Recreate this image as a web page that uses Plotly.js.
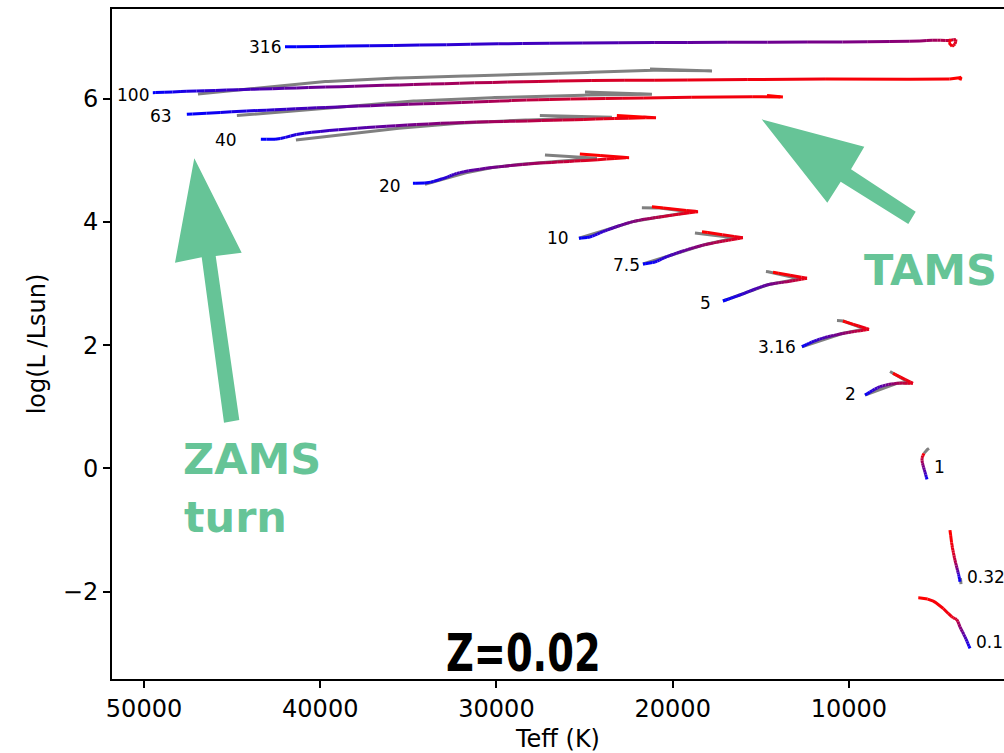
<!DOCTYPE html>
<html>
<head>
<meta charset="utf-8">
<script src="https://cdn.plot.ly/plotly-3.0.1.min.js"></script>
<style>
  html, body { margin: 0; padding: 0; background: #fff; overflow: hidden; }
  #hr { width: 1004px; height: 753px; }
</style>
</head>
<body>
<div id="hr"></div>
<script>
// Main-sequence evolutionary tracks, Z = 0.02.
// Coloured tracks: colour runs blue (ZAMS) -> red (TAMS) with the age fraction.
// Grey tracks: comparison models.

const massLabels = ['316', '100', '63', '40', '20', '10', '7.5', '5', '3.16', '2', '1', '0.32', '0.1'];

const teff316 = [42000, 35480, 26970, 18460, 9940, 5970, 5120, 4380, 3930, 3980, 4150, 4320, 4210];
const logL316 = [6.845, 6.869, 6.905, 6.918, 6.926, 6.942, 6.954, 6.950, 6.967, 6.894, 6.853, 6.910, 6.965];
const age316  = [0, 0.12, 0.27, 0.38, 0.48, 0.57, 0.64, 0.72, 0.82, 0.88, 0.93, 0.97, 1];

const teff100 = [49500, 46830, 41160, 35480, 26970, 18460, 9940, 3870, 3640, 3700];
const logL100 = [6.102, 6.130, 6.179, 6.227, 6.288, 6.309, 6.325, 6.333, 6.353, 6.301];
const age100  = [0, 0.15, 0.38, 0.55, 0.80, 0.92, 0.97, 0.99, 1, 1];

const teff63 = [47570, 43990, 38320, 32640, 26970, 21290, 14650, 13750, 14650];
const logL63 = [5.751, 5.805, 5.878, 5.935, 5.992, 6.016, 6.037, 6.032, 6.057];
const age63  = [0, 0.12, 0.38, 0.58, 0.78, 0.92, 0.97, 0.99, 1];

const teff40 = [43370, 42400, 41160, 37350, 32640, 26970, 23170, 20950, 23170];
const logL40 = [5.345, 5.350, 5.431, 5.534, 5.610, 5.651, 5.683, 5.696, 5.729];
const age40  = [0, 0.05, 0.15, 0.35, 0.55, 0.75, 0.92, 0.98, 1];

const teff20 = [34740, 33890, 32930, 32080, 28840, 25100, 22480, 25270];
const logL20 = [4.630, 4.640, 4.717, 4.803, 4.928, 4.998, 5.046, 5.106];
const age20  = [0, 0.05, 0.15, 0.30, 0.55, 0.85, 0.97, 1];

const teff10 = [25320, 24700, 23960, 22260, 20330, 18570, 21180];
const logL10 = [3.737, 3.758, 3.844, 4.007, 4.099, 4.169, 4.250];
const age10  = [0, 0.05, 0.20, 0.50, 0.80, 0.95, 1];

const teff7p5 = [21690, 21010, 20330, 18460, 16020, 18340];
const logL7p5 = [3.319, 3.352, 3.438, 3.612, 3.747, 3.844];
const age7p5  = [0, 0.05, 0.20, 0.55, 0.92, 1];

const teff5 = [17150, 16190, 14650, 13520, 12380, 14310];
const logL5 = [2.718, 2.816, 2.978, 3.032, 3.087, 3.184];
const age5  = [0, 0.15, 0.40, 0.65, 0.92, 1];

const teff3p16 = [12670, 11820, 10510, 8860, 10340];
const logL3p16 = [1.976, 2.084, 2.182, 2.258, 2.393];
const age3p16  = [0, 0.20, 0.50, 0.90, 1];

const teff2 = [9090, 8240, 7280, 6370, 7500];
const logL2 = [1.191, 1.326, 1.381, 1.381, 1.543];
const age2  = [0, 0.30, 0.65, 0.90, 1];

const teff1 = [5573, 5686, 5828, 5857, 5743];
const logL1 = [-0.179, -0.060, 0.086, 0.167, 0.244];
const age1  = [0, 0.30, 0.60, 0.80, 1];

const teff0p32 = [3700, 3757, 3842, 3984, 4154, 4268];
const logL0p32 = [-1.842, -1.750, -1.652, -1.490, -1.246, -1.002];
const age0p32  = [0, 0.10, 0.40, 0.75, 0.95, 1];

const teff0p1 = [3133, 3416, 3700, 3887, 4080, 4268, 4648, 5215, 5686, 6067];
const logL0p1 = [-2.924, -2.736, -2.574, -2.453, -2.427, -2.383, -2.275, -2.156, -2.112, -2.102];
const age0p1  = [0, 0.30, 0.55, 0.80, 0.90, 0.93, 0.96, 0.98, 0.99, 1];

// Grey comparison tracks
const gTeff100 = [46940, 43430, 41160, 35480, 26970, 21460, 17770, 21290];
const gLogL100 = [6.081, 6.179, 6.252, 6.341, 6.406, 6.463, 6.455, 6.487];

const gTeff63 = [44730, 41160, 35480, 26970, 21180, 24980];
const gLogL63 = [5.729, 5.813, 5.951, 6.049, 6.076, 6.114];

const gTeff40 = [41380, 37350, 32640, 27540, 23450, 27540];
const gLogL40 = [5.334, 5.472, 5.594, 5.667, 5.703, 5.729];

const gTeff20 = [34060, 32640, 30370, 26970, 24300, 27250];
const gLogL20 = [4.614, 4.733, 4.879, 4.977, 5.037, 5.090];

const gTeff10 = [25320, 22260, 20330, 19020, 20560, 21750];
const gLogL10 = [3.737, 4.007, 4.099, 4.164, 4.224, 4.234];

const gTeff7p5 = [21690, 18460, 16470, 18060, 18740];
const gLogL7p5 = [3.319, 3.612, 3.742, 3.802, 3.823];

const gTeff5 = [17150, 14650, 12780, 14310, 14710];
const gLogL5 = [2.718, 2.978, 3.076, 3.181, 3.197];

const gTeff3p16 = [12670, 10510, 9090, 10340, 10680];
const gLogL3p16 = [1.976, 2.182, 2.263, 2.393, 2.401];

const gTeff2 = [9090, 7280, 6540, 7500, 7670];
const gLogL2 = [1.191, 1.381, 1.386, 1.543, 1.573];

const gTeff1 = [5743, 5630, 5459];
const gLogL1 = [0.244, 0.289, 0.325];

const gTeff0p32 = [3643, 3672];
const gLogL0p32 = [-1.880, -1.782];

const xTicks = [50000, 40000, 30000, 20000, 10000];
const yTicks = [-2, 0, 2, 4, 6];

// ---- assemble tracks ----
const tracks = [
  { teff: teff316, logL: logL316, age: age316 },
  { teff: teff100, logL: logL100, age: age100, gt: gTeff100, gl: gLogL100 },
  { teff: teff63, logL: logL63, age: age63, gt: gTeff63, gl: gLogL63 },
  { teff: teff40, logL: logL40, age: age40, gt: gTeff40, gl: gLogL40 },
  { teff: teff20, logL: logL20, age: age20, gt: gTeff20, gl: gLogL20 },
  { teff: teff10, logL: logL10, age: age10, gt: gTeff10, gl: gLogL10 },
  { teff: teff7p5, logL: logL7p5, age: age7p5, gt: gTeff7p5, gl: gLogL7p5 },
  { teff: teff5, logL: logL5, age: age5, gt: gTeff5, gl: gLogL5 },
  { teff: teff3p16, logL: logL3p16, age: age3p16, gt: gTeff3p16, gl: gLogL3p16 },
  { teff: teff2, logL: logL2, age: age2, gt: gTeff2, gl: gLogL2 },
  { teff: teff1, logL: logL1, age: age1, gt: gTeff1, gl: gLogL1 },
  { teff: teff0p32, logL: logL0p32, age: age0p32, gt: gTeff0p32, gl: gLogL0p32 },
  { teff: teff0p1, logL: logL0p1, age: age0p1 }
];
tracks.forEach((t, i) => { t.label = massLabels[i]; });

// ---- plot geometry ----
const X_RANGE = [51816, 1203];
const Y_RANGE = [-3.42, 7.46];
const MARGIN = { l: 112, r: 0, t: 9, b: 74 };
const PW = 1004 - MARGIN.l - MARGIN.r;
const PH = 753 - MARGIN.t - MARGIN.b;
const sx = PW / Math.abs(X_RANGE[0] - X_RANGE[1]);
const sy = PH / (Y_RANGE[1] - Y_RANGE[0]);

// Smooth rendering of a track (centripetal Catmull-Rom in screen space,
// like a spline line shape). Sharp turns (the TAMS hooks) stay as corners.
function smoothTrack(xs, ys, vals) {
  const P = xs.map((x, i) => [x * sx, ys[i] * sy]);
  const n = P.length;
  if (n < 3) return { x: xs.slice(), y: ys.slice(), v: vals ? vals.slice() : null };
  const corner = P.map((p, i) => {
    if (i === 0 || i === n - 1) return true;
    const ax = p[0] - P[i - 1][0], ay = p[1] - P[i - 1][1];
    const bx = P[i + 1][0] - p[0], by = P[i + 1][1] - p[1];
    const c = (ax * bx + ay * by) / (Math.hypot(ax, ay) * Math.hypot(bx, by) + 1e-9);
    return c < 0.1;
  });
  const ox = [xs[0]], oy = [ys[0]], ov = vals ? [vals[0]] : null;
  for (let i = 0; i < n - 1; i++) {
    const p1 = P[i], p2 = P[i + 1];
    const p0 = corner[i] ? [2 * p1[0] - p2[0], 2 * p1[1] - p2[1]] : P[i - 1];
    const p3 = corner[i + 1] ? [2 * p2[0] - p1[0], 2 * p2[1] - p1[1]] : P[i + 2];
    const d = (a, b) => Math.max(1e-6, Math.sqrt(Math.hypot(b[0] - a[0], b[1] - a[1])));
    const t0 = 0, t1 = t0 + d(p0, p1), t2 = t1 + d(p1, p2), t3 = t2 + d(p2, p3);
    const len = Math.hypot(p2[0] - p1[0], p2[1] - p1[1]);
    const k = Math.max(1, Math.ceil(len / 3));
    for (let j = 1; j <= k; j++) {
      const u = j / k, t = t1 + (t2 - t1) * u;
      const L = (a, b, ta, tb) => [
        (tb - t) / (tb - ta) * a[0] + (t - ta) / (tb - ta) * b[0],
        (tb - t) / (tb - ta) * a[1] + (t - ta) / (tb - ta) * b[1]];
      const A1 = L(p0, p1, t0, t1), A2 = L(p1, p2, t1, t2), A3 = L(p2, p3, t2, t3);
      const B1 = L(A1, A2, t0, t2), B2 = L(A2, A3, t1, t3);
      const C = L(B1, B2, t1, t2);
      ox.push(C[0] / sx); oy.push(C[1] / sy);
      if (ov) ov.push(vals[i] + (vals[i + 1] - vals[i]) * u);
    }
  }
  return { x: ox, y: oy, v: ov };
}

// Age-coloured lines: short pieces grouped into colour bins (one trace per bin).
const NB = 40;
const bins = Array.from({ length: NB }, () => ({ x: [], y: [], lastEnd: null }));
function ageColor(a) {
  const r = Math.round(255 * a), b = Math.round(255 * (1 - a));
  return `rgb(${r},0,${b})`;
}
tracks.forEach((t, ti) => {
  const s = smoothTrack(t.teff, t.logL, t.age);
  for (let i = 0; i < s.x.length - 1; i++) {
    const am = (s.v[i] + s.v[i + 1]) / 2;
    const bi = Math.min(NB - 1, Math.max(0, Math.round(am * (NB - 1))));
    const bin = bins[bi];
    const startKey = ti + ':' + i;
    if (bin.lastEnd === startKey) {
      bin.x.push(s.x[i + 1]); bin.y.push(s.y[i + 1]);
    } else {
      if (bin.x.length) { bin.x.push(null); bin.y.push(null); }
      bin.x.push(s.x[i], s.x[i + 1]); bin.y.push(s.y[i], s.y[i + 1]);
    }
    bin.lastEnd = ti + ':' + (i + 1);
  }
});

const data = [];

// grey comparison tracks underneath
const gx = [], gy = [];
tracks.forEach(t => {
  if (!t.gt) return;
  const s = smoothTrack(t.gt, t.gl, null);
  if (gx.length) { gx.push(null); gy.push(null); }
  gx.push(...s.x); gy.push(...s.y);
});
data.push({
  type: 'scatter', mode: 'lines', x: gx, y: gy,
  line: { color: '#808080', width: 3 }, hoverinfo: 'skip', showlegend: false
});

bins.forEach((b, i) => {
  if (!b.x.length) return;
  data.push({
    type: 'scatter', mode: 'lines', x: b.x, y: b.y,
    line: { color: ageColor(i / (NB - 1)), width: 3 },
    hoverinfo: 'skip', showlegend: false
  });
});

// ---- annotations ----
const GREEN = '#66c497';
const labelFont = { family: 'DejaVu Sans, sans-serif', size: 17, color: '#000' };
const labelDX = [-2, -2, -13, -22, -10, -8, -1, -10, -4, -7, 5, 5, 4];
const labelDY = [0, -2, -2, -1, -3, 0, -1, -2, 0, 1, 12, 5, 6];
const annotations = tracks.map((t, i) => {
  const lowMass = i >= 10;
  return {
    x: t.teff[0], y: t.logL[0], xref: 'x', yref: 'y',
    text: t.label, showarrow: false,
    xanchor: lowMass ? 'left' : 'right', yanchor: 'middle',
    xshift: labelDX[i], yshift: labelDY[i], font: labelFont
  };
});

// pixel helpers for the overlay call-outs
const PX = x => (x - MARGIN.l) / PW;
const PY = y => (MARGIN.t + PH - y) / PH;

const calloutFont = { family: 'DejaVu Sans, sans-serif', size: 43, color: GREEN, weight: 700 };
annotations.push(
  { xref: 'paper', yref: 'paper', x: PX(252), y: PY(459), text: 'ZAMS', showarrow: false,
    xanchor: 'center', yanchor: 'middle', font: calloutFont },
  { xref: 'paper', yref: 'paper', x: PX(182), y: PY(517), text: 'turn', showarrow: false,
    xanchor: 'left', yanchor: 'middle', font: calloutFont },
  { xref: 'paper', yref: 'paper', x: PX(930), y: PY(270), text: 'TAMS', showarrow: false,
    xanchor: 'center', yanchor: 'middle', font: calloutFont },
  { xref: 'paper', yref: 'paper', x: PX(523), y: PY(653), text: 'Z=0.02', showarrow: false,
    xanchor: 'center', yanchor: 'middle',
    font: { family: 'DejaVu Sans Condensed, Liberation Sans Narrow, Liberation Sans, sans-serif',
            size: 52, color: '#000', weight: 700 } }
);

function polyPath(pts) {
  return 'M ' + pts.map(p => PX(p[0]).toFixed(5) + ',' + PY(p[1]).toFixed(5)).join(' L ') + ' Z';
}
const zamsArrow = [[194.3, 158.3], [241.7, 252.7], [215.7, 256], [239.3, 420], [224, 422.7],
                   [201.7, 257.3], [175, 262.7]];
const tamsArrow = [[761.7, 119.3], [864.3, 146.7], [851, 169.3], [915.7, 211.7], [908.3, 224],
                   [840.7, 181.7], [827.3, 202.7]];
const shapes = [zamsArrow, tamsArrow].map(p => ({
  type: 'path', xref: 'paper', yref: 'paper', path: polyPath(p),
  fillcolor: GREEN, line: { width: 0 }, layer: 'above'
}));

const axisFont = { family: 'DejaVu Sans, sans-serif', size: 24, color: '#000' };
const layout = {
  width: 1004, height: 753,
  margin: MARGIN,
  paper_bgcolor: '#fff', plot_bgcolor: '#fff',
  showlegend: false,
  xaxis: {
    range: X_RANGE, tickvals: xTicks, ticktext: xTicks.map(String),
    ticks: 'outside', ticklen: 7, tickwidth: 2, tickcolor: '#000',
    showline: true, linewidth: 2, linecolor: '#000', mirror: true,
    showgrid: false, zeroline: false, tickfont: axisFont,
    title: { text: 'Teff (K)', font: axisFont, standoff: 8 }
  },
  yaxis: {
    range: Y_RANGE, tickvals: yTicks, ticktext: yTicks.map(v => v < 0 ? '\u2212' + Math.abs(v) : String(v)),
    ticks: 'outside', ticklen: 7, tickwidth: 2, tickcolor: '#000',
    showline: true, linewidth: 2, linecolor: '#000', mirror: false,
    showgrid: false, zeroline: false, tickfont: axisFont,
    title: { text: 'log(L /Lsun)', font: axisFont, standoff: 10 }
  },
  annotations: annotations,
  shapes: shapes
};

Plotly.newPlot('hr', data, layout, { staticPlot: true, displayModeBar: false }).then(gd => {
  // the metallicity tag is set in a tall, narrow face
  gd.querySelectorAll('.annotation-text').forEach(el => {
    if (el.textContent === 'Z=0.02') {
      const bb = el.getBBox();
      const cx = bb.x + bb.width / 2;
      el.setAttribute('transform', `translate(${cx},0) scale(0.82,1) translate(${-cx},0)`);
    }
  });
});
</script>
</body>
</html>
